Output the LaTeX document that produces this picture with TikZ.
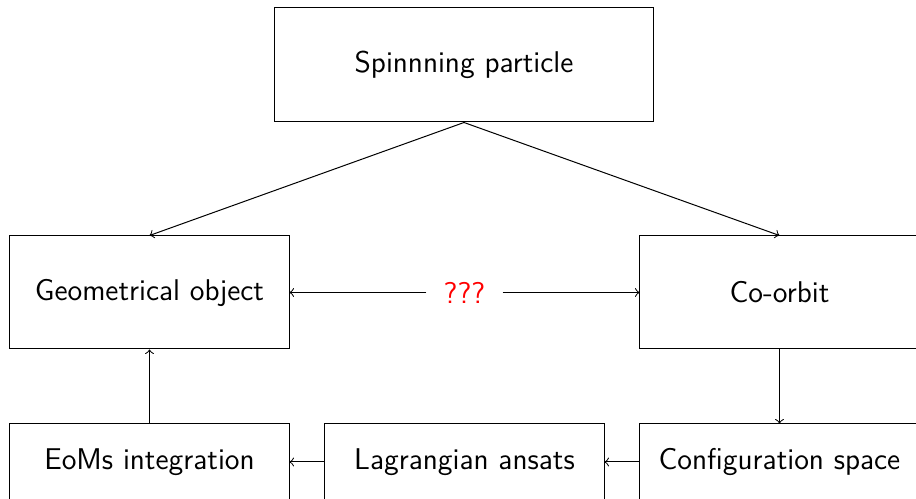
\documentclass[tikz,border=0pt]{standalone}
\usetikzlibrary{arrows}
\tikzset{
  box/.style={draw, line width=0.4pt, minimum width=111.6pt, minimum height=45.2pt, inner sep=2pt, font=\sffamily\large},
  topbox/.style={box, minimum width=151.2pt, minimum height=45.6pt},
  lowbox/.style={box, minimum height=30.4pt},
  conn/.style={->, line width=0.4pt},
  qlabel/.style={text=red, font=\sffamily\large, minimum width=30pt, inner sep=0pt}
}
\begin{document}
\begin{tikzpicture}[x=0.4pt, y=-0.4pt]
\useasboundingbox (0,0) rectangle (916,499);
\node[topbox] (sp) at (464,65) {Spinnning particle};
\node[box] (geo) at (149.5,292.5) {Geometrical object};
\node[box] (co) at (779.5,292.5) {Co-orbit};
\node[lowbox] (eom) at (149.5,462) {EoMs integration};
\node[lowbox] (lag) at (464.5,462) {Lagrangian ansats};
\node[lowbox] (cfg) at (779.5,462) {Configuration space};
\node[qlabel] (q) at (464.5,292.5) {???};
\draw[conn] (sp.south) -- (geo.north);
\draw[conn] (sp.south) -- (co.north);
\draw[conn] (q) -- (geo);
\draw[conn] (q) -- (co);
\draw[conn] (co.south) -- (cfg.north);
\draw[conn] (cfg) -- (lag);
\draw[conn] (lag) -- (eom);
\draw[conn] (eom.north) -- (geo.south);
\end{tikzpicture}
\end{document}
